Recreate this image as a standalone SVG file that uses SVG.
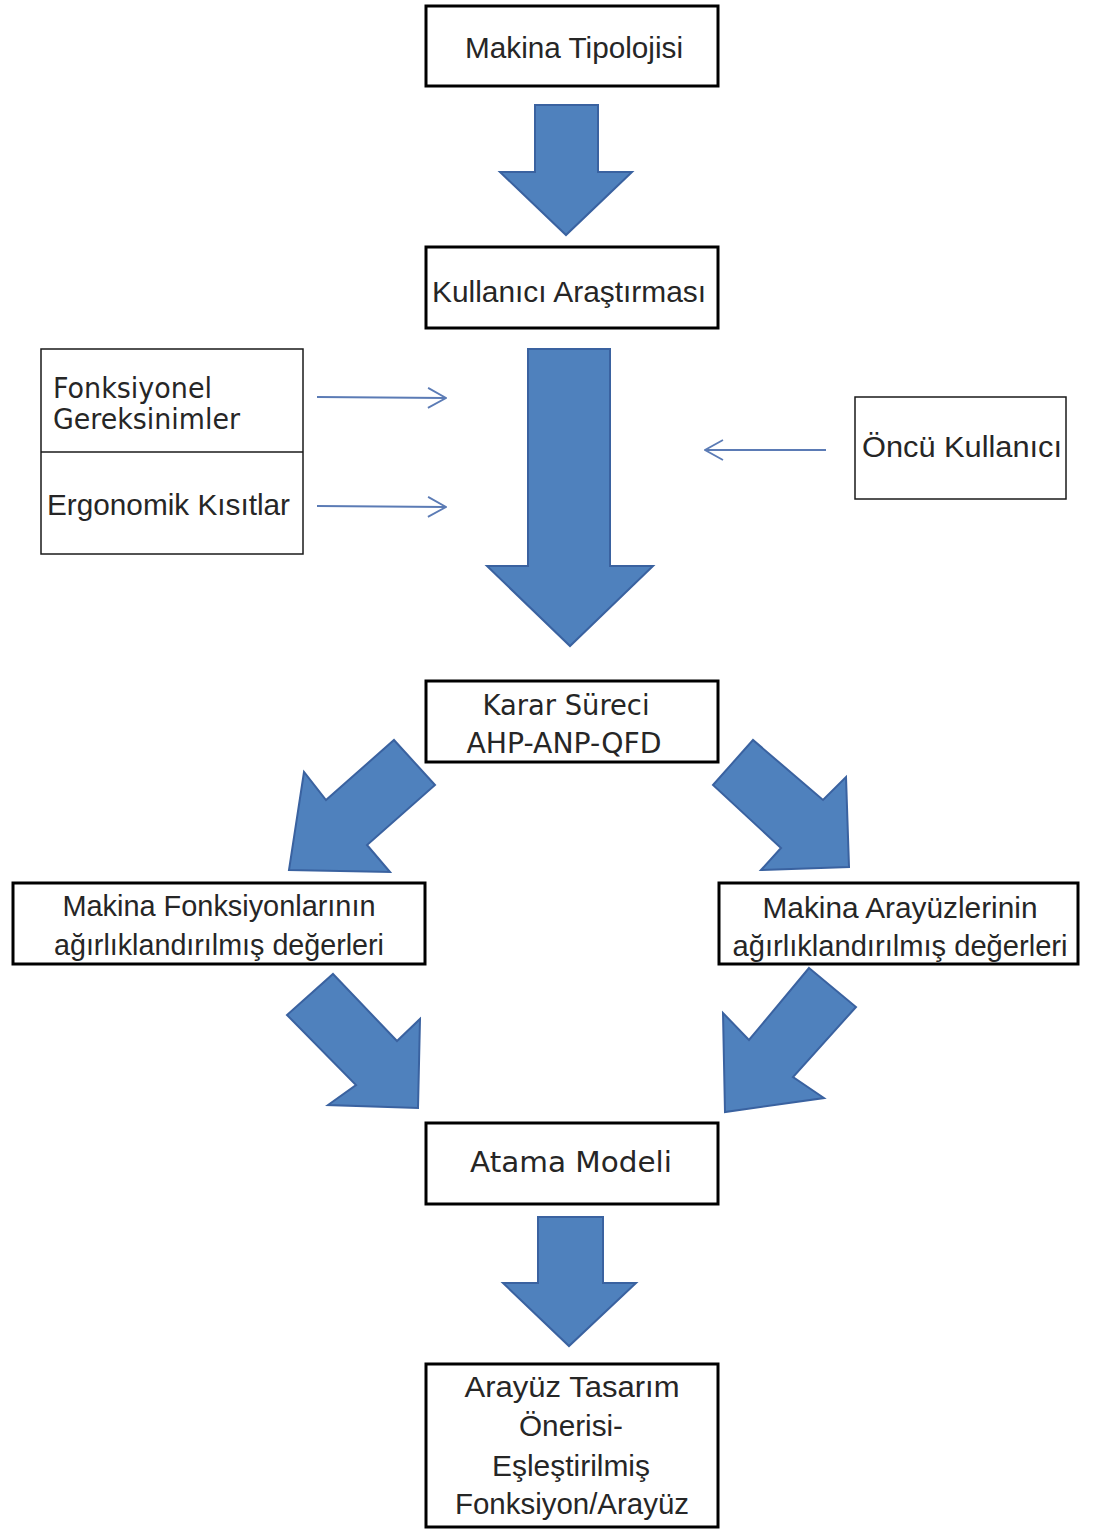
<svg xmlns="http://www.w3.org/2000/svg" width="1093" height="1530" viewBox="0 0 1093 1530">
  <defs>
    <style>
      .box { fill: #ffffff; stroke: #000000; stroke-width: 3; }
      .thin { fill: #ffffff; stroke: #1a1a1a; stroke-width: 1.5; }
      .lbl { font-family: "Liberation Sans", Arial, sans-serif; font-size: 30px; fill: #262626; }
      .geo { font-family: "DejaVu Sans", "Liberation Sans", sans-serif; font-size: 29px; fill: #262626; }
      .mid { text-anchor: middle; }
      .block { fill: #4f81bd; stroke: #3a62a0; stroke-width: 2; stroke-linejoin: miter; }
      .feed { fill: none; stroke: #5b7bb5; stroke-width: 1.8; }
    </style>
    <marker id="chev" viewBox="0 0 20 22" refX="19" refY="11" markerWidth="20" markerHeight="22" markerUnits="userSpaceOnUse" orient="auto">
      <path d="M1,1 L19,11 L1,21" fill="none" stroke="#5b7bb5" stroke-width="1.8"/>
    </marker>
  </defs>

  <rect width="1093" height="1530" fill="#ffffff"/>

  <!-- connectors: block arrows and thin feed-in arrows -->
  <g id="connectors">
    <polygon class="block" points="535,105 598,105 598,172 632,172 566,235 500,172 535,172"/>
    <polygon class="block" points="528,349 610,349 610,566 653,566 570,646 487,566 528,566"/>
    <polygon class="block" points="394,740 435,785 367,845 390,872 289,870 304,772 326,800"/>
    <polygon class="block" points="753,740 713,785 781,848 761,870 849,867 846,777 823,800"/>
    <polygon class="block" points="333,974 397,1041 420,1019 418,1108 328,1105 356,1085 287,1015"/>
    <polygon class="block" points="809,968 856,1007 793,1077 824,1098 725,1112 723,1013 749,1040"/>
    <polygon class="block" points="538,1217 603,1217 603,1283 636,1283 569,1346 503,1283 538,1283"/>
    <path class="feed" d="M317,397 L446,398" marker-end="url(#chev)"/>
    <path class="feed" d="M317,506 L446,507" marker-end="url(#chev)"/>
    <path class="feed" d="M826,450 L705,450" marker-end="url(#chev)"/>
  </g>

  <g id="makina-tipolojisi">
    <rect class="box" x="426" y="6" width="292" height="80"/>
    <text class="lbl mid" x="574" y="58" textLength="218" lengthAdjust="spacingAndGlyphs">Makina Tipolojisi</text>
  </g>

  <g id="kullanici-arastirmasi">
    <rect class="box" x="426" y="247" width="292" height="81"/>
    <text class="lbl mid" x="569" y="302" textLength="274" lengthAdjust="spacingAndGlyphs">Kullanıcı Araştırması</text>
  </g>

  <g id="gereksinimler">
    <rect class="thin" x="41" y="349" width="262" height="205"/>
    <line x1="41" y1="452" x2="303" y2="452" stroke="#1a1a1a" stroke-width="1.5"/>
    <text class="geo" x="53" y="398" font-size="23" textLength="159" lengthAdjust="spacingAndGlyphs">Fonksiyonel</text>
    <text class="geo" x="53" y="429" font-size="23" textLength="187" lengthAdjust="spacingAndGlyphs">Gereksinimler</text>
    <text class="lbl" x="47" y="515" textLength="243" lengthAdjust="spacingAndGlyphs">Ergonomik Kısıtlar</text>
  </g>

  <g id="oncu-kullanici">
    <rect class="thin" x="855" y="397" width="211" height="102"/>
    <text class="lbl" x="862" y="457" textLength="200" lengthAdjust="spacingAndGlyphs">Öncü Kullanıcı</text>
  </g>

  <g id="karar-sureci">
    <rect class="box" x="426" y="681" width="292" height="81"/>
    <text class="geo mid" x="566" y="715" textLength="167" lengthAdjust="spacingAndGlyphs">Karar Süreci</text>
    <text class="geo mid" x="564" y="753" textLength="195" lengthAdjust="spacingAndGlyphs">AHP-ANP-QFD</text>
  </g>

  <g id="fonksiyon-degerleri">
    <rect class="box" x="13" y="883" width="412" height="81"/>
    <text class="lbl mid" x="219" y="916" textLength="313" lengthAdjust="spacingAndGlyphs">Makina Fonksiyonlarının</text>
    <text class="lbl mid" x="219" y="955" textLength="330" lengthAdjust="spacingAndGlyphs">ağırlıklandırılmış değerleri</text>
  </g>

  <g id="arayuz-degerleri">
    <rect class="box" x="719" y="883" width="359" height="81"/>
    <text class="lbl mid" x="900" y="918" textLength="275" lengthAdjust="spacingAndGlyphs">Makina Arayüzlerinin</text>
    <text class="lbl mid" x="900" y="956" textLength="335" lengthAdjust="spacingAndGlyphs">ağırlıklandırılmış değerleri</text>
  </g>

  <g id="atama-modeli">
    <rect class="box" x="426" y="1123" width="292" height="81"/>
    <text class="geo mid" x="571" y="1172" textLength="202" lengthAdjust="spacingAndGlyphs">Atama Modeli</text>
  </g>

  <g id="arayuz-tasarim">
    <rect class="box" x="426" y="1364" width="292" height="163"/>
    <text class="lbl mid" x="572" y="1397" textLength="215" lengthAdjust="spacingAndGlyphs">Arayüz Tasarım</text>
    <text class="lbl mid" x="571" y="1436" textLength="104" lengthAdjust="spacingAndGlyphs">Önerisi-</text>
    <text class="lbl mid" x="571" y="1476" textLength="158" lengthAdjust="spacingAndGlyphs">Eşleştirilmiş</text>
    <text class="lbl mid" x="572" y="1514" textLength="234" lengthAdjust="spacingAndGlyphs">Fonksiyon/Arayüz</text>
  </g>
</svg>
